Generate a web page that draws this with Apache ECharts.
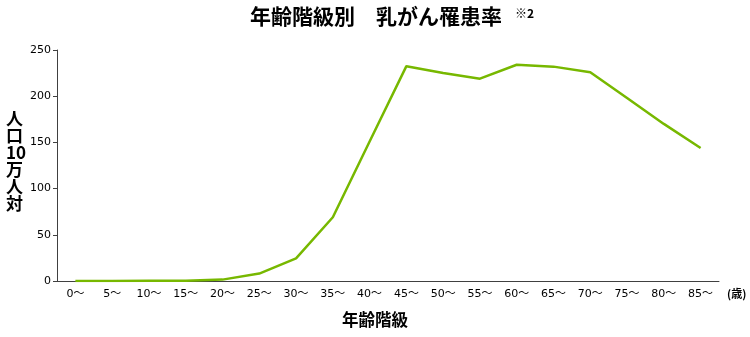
<!DOCTYPE html>
<html><head><meta charset="utf-8">
<script src="https://cdn.jsdelivr.net/npm/echarts@6/dist/echarts.min.js"></script>
<style>html,body{margin:0;padding:0;background:#fff}#c{width:750px;height:337px}</style>
</head><body><div id="c"></div>
<script>
const categories = ['0〜','5〜','10〜','15〜','20〜','25〜','30〜','35〜','40〜','45〜','50〜','55〜','60〜','65〜','70〜','75〜','80〜','85〜'];
const incidence = [0.1, 0.1, 0.2, 0.4, 1.5, 8, 24.5, 69, 151, 232.5, 225, 219, 234, 232, 226, 198, 170, 144];
const yTicks = [0, 50, 100, 150, 200, 250];

const chart = echarts.init(document.getElementById('c'), null, {renderer: 'canvas'});
const jp = '"Noto Sans CJK JP", sans-serif';
chart.setOption({
  animation: false,
  backgroundColor: '#fff',
  grid: {left: 57, right: 31, top: 50, bottom: 56},
  xAxis: {
    type: 'category', data: categories, boundaryGap: true,
    axisLine: {lineStyle: {color: '#404040', width: 1}},
    axisTick: {length: 4, lineStyle: {color: '#404040'}},
    axisLabel: {color: '#000', fontSize: 11, fontFamily: 'DejaVu Sans, ' + jp, margin: 8, interval: 0}
  },
  yAxis: {
    type: 'value', min: yTicks[0], max: yTicks[yTicks.length-1], interval: 50,
    axisLine: {show: true, lineStyle: {color: '#404040', width: 1}},
    axisTick: {show: true, length: 4, lineStyle: {color: '#404040'}},
    splitLine: {show: false},
    axisLabel: {color: '#000', fontSize: 11, fontFamily: 'DejaVu Sans', margin: 6}
  },
  series: [{
    type: 'line', data: incidence, symbol: 'none',
    lineStyle: {color: '#77b800', width: 2.5}
  }],
  graphic: [
    {type: 'text', left: 250, top: 6, style: {text: '年齢階級別　乳がん罹患率', font: 'bold 21px ' + jp, fill: '#000'}},
    {type: 'text', left: 515, top: 7, style: {text: '※2', font: 'bold 12px ' + jp, fill: '#000'}},
    {type: 'text', left: 6, top: 110, style: {text: '人\n口\n10\n万\n人\n対', font: 'bold 17px ' + jp, fill: '#000', align: 'center', lineHeight: 17}},
    {type: 'text', left: 342, top: 311, style: {text: '年齢階級', font: 'bold 16.5px ' + jp, fill: '#000'}},
    {type: 'text', left: 727, top: 288, style: {text: '(歳)', font: 'bold 11px ' + jp, fill: '#000'}}
  ]
});
</script></body></html>
